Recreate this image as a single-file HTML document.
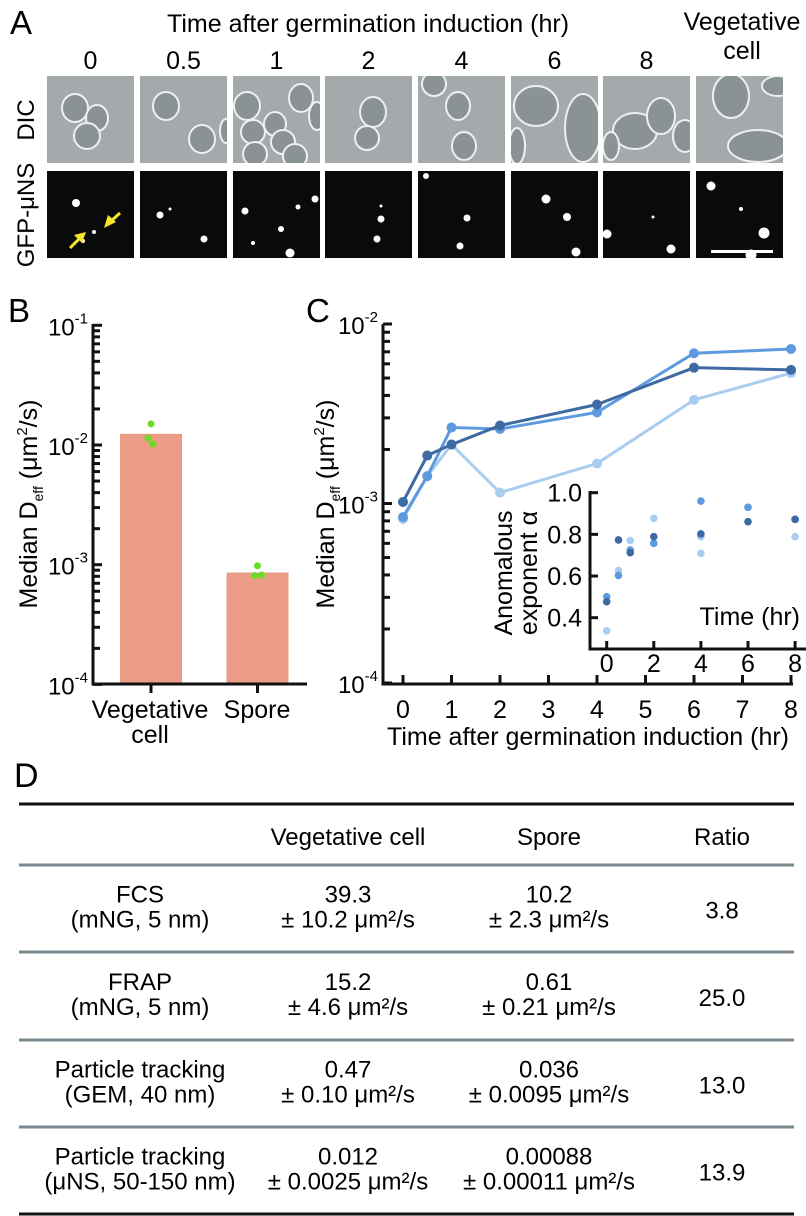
<!DOCTYPE html>
<html><head><meta charset="utf-8"><style>
html,body{margin:0;padding:0;background:#fff;}
svg{display:block;font-family:"Liberation Sans",Arial,sans-serif;}
</style></head><body>
<svg id="fig" width="806" height="1216" viewBox="0 0 806 1216" xmlns="http://www.w3.org/2000/svg">
<g>
<text x="10" y="34" font-size="33">A</text>
<text x="167" y="32" font-size="25">Time after germination induction (hr)</text>
<text x="742" y="30" font-size="25" text-anchor="middle">Vegetative</text>
<text x="742" y="59" font-size="25" text-anchor="middle">cell</text>
<text transform="translate(34 120) rotate(-90)" font-size="24" text-anchor="middle">DIC</text>
<text transform="translate(34 215) rotate(-90)" font-size="24" text-anchor="middle">GFP-μNS</text>
<g id="micro"></g>
</g>
<g>
<text x="8" y="322" font-size="33">B</text>
<text transform="translate(37 504) rotate(-90)" font-size="25" text-anchor="middle">Median D<tspan font-size="14" dy="6">eff</tspan><tspan dy="-6"> (μm</tspan><tspan font-size="15" dy="-10">2</tspan><tspan dy="10">/s)</tspan></text>
<g id="chartB"></g>
<text x="150" y="718" font-size="25" text-anchor="middle">Vegetative</text>
<text x="150" y="743" font-size="25" text-anchor="middle">cell</text>
<text x="257" y="718" font-size="25" text-anchor="middle">Spore</text>
</g>
<g>
<text x="306" y="322" font-size="33">C</text>
<text transform="translate(334 504) rotate(-90)" font-size="25" text-anchor="middle">Median D<tspan font-size="14" dy="6">eff</tspan><tspan dy="-6"> (μm</tspan><tspan font-size="15" dy="-10">2</tspan><tspan dy="10">/s)</tspan></text>
<g id="chartC"></g>
<text x="588" y="745" font-size="25" text-anchor="middle">Time after germination induction (hr)</text>
</g>
<g>
<text x="14" y="787" font-size="34">D</text>
<g id="table"></g>
</g>
</svg>
<script>
const NS="http://www.w3.org/2000/svg";
function mk(tag,attrs,parent){const e=document.createElementNS(NS,tag);for(const k in attrs)e.setAttribute(k,attrs[k]);parent.appendChild(e);return e;}

// ===== Panel B data =====
const bCategories=["Vegetative cell","Spore"];
const bMedians=[0.0124,0.00086];
const bVegDots=[0.0150,0.0114,0.0102];
const bSporeDots=[0.00098,0.00081,0.00082];
const bTickLabels=["-1","-2","-3","-4"];

// ===== Panel C data =====
const cTimes=[0,0.5,1,2,4,6,8];
const cDark=[0.00102,0.00185,0.00213,0.00272,0.00356,0.00571,0.00555];
const cMedium=[0.00084,0.00142,0.00265,0.00260,0.00322,0.00687,0.00726];
const cLight=[0.00082,0.00142,0.00213,0.00115,0.00167,0.00378,0.00533];
const cXTicks=[0,1,2,3,4,5,6,7,8];
const cYTickLabels=["-2","-3","-4"];
const iDark=[0.477,0.773,0.712,0.789,0.802,0.861,0.872];
const iMedium=[0.501,0.603,0.725,0.757,0.960,0.930,0.872];
const iLight=[0.337,0.626,0.770,0.877,0.709,0.930,0.789];
const iLight2=[null,null,null,null,0.789,null,null];
const iYTicks=[0.4,0.6,0.8,1.0];
const iXTicks=[0,2,4,6,8];

const COL={dark:"#3e6aa4",med:"#5d9ae0",light:"#a9cdf0"};

(function(){
  const g=document.getElementById('micro');
  const labels=["0","0.5","1","2","4","6","8"];
  const xs=[47,140,233,325,418,511,603,696];
  const w=87;
  labels.forEach((l,i)=>{const t=mk('text',{x:xs[i]+w/2,y:69,'font-size':25,'text-anchor':'middle'},g);t.textContent=l;
    
    });
  const cells=[
   [[28,32,13,14],[50,42,11,13],[40,60,13,13]],
   [[26,30,13,14],[62,63,13,14],[86,55,6,12]],
   [[14,30,13,14],[42,48,11,12],[20,56,12,12],[68,22,12,14],[50,66,12,12],[22,78,12,12],[62,80,12,12],[84,40,8,14]],
   [[48,36,13,15],[42,62,12,12]],
   [[16,8,12,12],[40,30,12,14],[46,70,12,14]],
   [[25,30,22,20],[72,52,18,34],[6,70,8,18]],
   [[32,55,22,18],[58,40,14,18],[82,60,12,16],[8,70,8,14]],
   [[35,20,18,22],[62,70,30,16],[82,10,16,10]]
  ];
  const dots=[
   [[29,32,4],[47,61,2],[36,70,2],[28,72,1.5]],
   [[20,44,3.5],[64,68,3.5],[30,38,1.5]],
   [[12,40,3.5],[48,58,3],[57,82,4.5],[82,28,3.5],[20,72,2],[65,36,2.5]],
   [[56,48,3.5],[52,68,3.5],[56,35,1.5]],
   [[8,5,3],[49,47,3.5],[42,75,3.5]],
   [[35,28,4.5],[56,46,4],[65,81,4.5]],
   [[4,63,4.5],[68,78,4.5],[50,46,1.5]],
   [[15,15,4.5],[68,62,5.5],[55,84,5.5],[45,38,2]]
  ];
  xs.forEach((x,i)=>{
    const d=mk('g',{},g);
    
    
    mk('rect',{x:x,y:76,width:w,height:87,fill:'#a4aaab'},d);
    const cp='cp'+i;const c=mk('clipPath',{id:cp},d);mk('rect',{x:x,y:76,width:w,height:87},c);
    const cg=mk('g',{'clip-path':'url(#'+cp+')'},d);
    cells[i].forEach(c=>{mk('ellipse',{cx:x+c[0],cy:76+c[1],rx:c[2],ry:c[3],fill:'#8a9293',stroke:'#eef0f0','stroke-width':2},cg);});
    const f=mk('g',{},g);
    
    
    mk('rect',{x:x,y:171,width:w,height:87,fill:'#0a0a0a'},f);
    const cp2='cq'+i;const c2=mk('clipPath',{id:cp2},f);mk('rect',{x:x,y:171,width:w,height:87},c2);
    const fg=mk('g',{'clip-path':'url(#'+cp2+')'},f);
    dots[i].forEach(p=>{mk('circle',{cx:x+p[0],cy:171+p[1],r:p[2],fill:'#fff'},fg);});
  });
  const a=mk('g',{stroke:'#f5e62a','stroke-width':3,fill:'#f5e62a'},g);
  
  
  mk('line',{x1:70,y1:248,x2:80,y2:238},a);mk('polygon',{points:'86,232 74,235 82,243',stroke:'none'},a);
  mk('line',{x1:120,y1:213,x2:110,y2:222},a);mk('polygon',{points:'104,228 108,215 116,222',stroke:'none'},a);
  const sb=mk('rect',{x:711,y:250,width:62,height:3,fill:'#fff'},g);
  
  
})();

(function(){
  const g=document.getElementById('chartB');
  const ax=93, yB=v=>445-(Math.log10(v)+2)*119.7, bottom=684;
  const xB=i=>151+i*106.5;
  bMedians.forEach((v,i)=>{const r=mk('rect',{x:xB(i)-31,y:yB(v),width:62,height:bottom-yB(v),fill:'#eb9c86'},g);
    
    });
  [bVegDots,bSporeDots].forEach((arr,i)=>arr.forEach((v,j)=>{const c=mk('circle',{cx:xB(i)+(j==0?0:(j==1?-3:2))+(i==1&&j==2?2:0),cy:yB(v),r:3.5,fill:'#6bdc25'},g);
    
    }));
  for(let dec=-4;dec<-1;dec++){for(let m=1;m<10;m++){const v=m*Math.pow(10,dec);const y=yB(v);mk('line',{x1:ax,x2:ax+(m==1?9:7),y1:y,y2:y,stroke:'#111','stroke-width':3},g);}}
  mk('line',{x1:ax,x2:ax+9,y1:yB(0.1),y2:yB(0.1),stroke:'#111','stroke-width':3},g);
  bTickLabels.forEach(l=>{const y=yB(Math.pow(10,+l));const t=mk('text',{x:88,y:y+10,'font-size':24,'text-anchor':'end'},g);
    t.innerHTML='10<tspan font-size="15" dy="-12">'+l+'</tspan>';
    
    });
  const yl=mk('line',{x1:ax,x2:ax,y1:324,y2:bottom+1.5,stroke:'#111','stroke-width':3},g);
  
  const xl=mk('line',{x1:ax-1.5,x2:307,y1:bottom,y2:bottom,stroke:'#111','stroke-width':3},g);
  
  bCategories.forEach((c,i)=>mk('line',{x1:xB(i),x2:xB(i),y1:bottom,y2:bottom+9,stroke:'#111','stroke-width':3},g));
})();

(function(){
  const g=document.getElementById('chartC');
  const ax=383,bottom=684;
  const yC=v=>503.5-(Math.log10(v)+3)*179.5, xC=t=>403+48.5*t;
  for(let dec=-4;dec<-2;dec++){for(let m=1;m<10;m++){const y=yC(m*Math.pow(10,dec));mk('line',{x1:ax,x2:ax+(m==1?9:7),y1:y,y2:y,stroke:'#111','stroke-width':3},g);}}
  mk('line',{x1:ax,x2:ax+9,y1:yC(0.01),y2:yC(0.01),stroke:'#111','stroke-width':3},g);
  cYTickLabels.forEach(l=>{const y=yC(Math.pow(10,+l));const t=mk('text',{x:378,y:y+10,'font-size':24,'text-anchor':'end'},g);
    t.innerHTML='10<tspan font-size="15" dy="-12">'+l+'</tspan>';
    
    });
  cXTicks.forEach(t=>{mk('line',{x1:xC(t),x2:xC(t),y1:bottom,y2:bottom-9,stroke:'#111','stroke-width':3},g);
    const tx=mk('text',{x:xC(t),y:718,'font-size':25,'text-anchor':'middle'},g);tx.textContent=t;
    
    });
  mk('line',{x1:ax,x2:ax,y1:324,y2:bottom+1.5,stroke:'#111','stroke-width':3},g);
  mk('line',{x1:ax-1.5,x2:793,y1:bottom,y2:bottom,stroke:'#111','stroke-width':3},g);
  [[cLight,COL.light,'light'],[cMedium,COL.med,'medium'],[cDark,COL.dark,'dark']].forEach(([arr,col,nm])=>{
    const pl=mk('polyline',{points:arr.map((v,i)=>xC(cTimes[i])+','+yC(v)).join(' '),fill:'none',stroke:col,'stroke-width':3},g);
    
    
    arr.forEach((v,i)=>{const c=mk('circle',{cx:xC(cTimes[i]),cy:yC(v),r:5,fill:col},g);
      
      });
  });
  const ig=mk('g',{},g);
  
  
  const xI=t=>606.7+23.55*t, yI=v=>492.7-(v-1)*208.3, ib=649;
  mk('rect',{x:591,y:480,width:215,height:168,fill:'#fff'},ig);
  mk('line',{x1:590,x2:590,y1:491,y2:ib+1.5,stroke:'#111','stroke-width':3},ig);
  mk('line',{x1:588.5,x2:806,y1:ib,y2:ib,stroke:'#111','stroke-width':3},ig);
  iYTicks.forEach(v=>{mk('line',{x1:590,x2:598,y1:yI(v),y2:yI(v),stroke:'#111','stroke-width':3},ig);
    const t=mk('text',{x:582,y:yI(v)+9,'font-size':25,'text-anchor':'end'},ig);t.textContent=v.toFixed(1);
    
    });
  iXTicks.forEach(v=>{mk('line',{x1:xI(v),x2:xI(v),y1:ib,y2:ib-8,stroke:'#111','stroke-width':3},ig);
    const t=mk('text',{x:xI(v),y:672,'font-size':25,'text-anchor':'middle'},ig);t.textContent=v;
    
    });
  [[iLight,COL.light],[iLight2,COL.light],[iMedium,COL.med],[iDark,COL.dark]].forEach(([arr,col])=>arr.forEach((v,i)=>{if(v==null)return;
    const c=mk('circle',{cx:xI(cTimes[i]),cy:yI(v),r:3.8,fill:col},ig);
    
    }));
  const tt=mk('text',{x:800,y:625,'font-size':25,'text-anchor':'end'},ig);tt.textContent='Time (hr)';
  
  const yt=mk('text',{transform:'translate(0 573) rotate(-90)','font-size':25,'text-anchor':'middle'},ig);
  yt.innerHTML='<tspan x="0" y="512">Anomalous</tspan><tspan x="0" y="537">exponent α</tspan>';
  
})();

(function(){
  const g=document.getElementById('table');
  const cols=[140,348,549,722];
  const header=["","Vegetative cell","Spore","Ratio"];
  const rows=[
    [["FCS","(mNG, 5 nm)"],["39.3","± 10.2 μm²/s"],["10.2","± 2.3 μm²/s"],["3.8"]],
    [["FRAP","(mNG, 5 nm)"],["15.2","± 4.6 μm²/s"],["0.61","± 0.21 μm²/s"],["25.0"]],
    [["Particle tracking","(GEM, 40 nm)"],["0.47","± 0.10 μm²/s"],["0.036","± 0.0095 μm²/s"],["13.0"]],
    [["Particle tracking","(μNS, 50-150 nm)"],["0.012","± 0.0025 μm²/s"],["0.00088","± 0.00011 μm²/s"],["13.9"]]
  ];
  const lines=[865,952,1040,1127];
  mk('line',{x1:19,x2:794,y1:804,y2:804,stroke:'#111','stroke-width':3},g);
  mk('line',{x1:19,x2:794,y1:1214,y2:1214,stroke:'#111','stroke-width':3},g);
  lines.forEach(y=>{const l=mk('line',{x1:19,x2:794,y1:y,y2:y,stroke:'#7a8890','stroke-width':3},g);
    });
  header.forEach((h,i)=>{if(!h)return;const t=mk('text',{x:cols[i],y:845,'font-size':24,'text-anchor':'middle'},g);t.textContent=h;
    });
  rows.forEach((r,ri)=>{const mid=(lines[ri]+(ri<3?lines[ri+1]:1214))/2;
    r.forEach((cell,ci)=>{const t=mk('text',{x:cols[ci],'font-size':24,'text-anchor':'middle'},g);
      
      if(cell.length==1){t.setAttribute('y',mid+10);t.textContent=cell[0];}
      else{t.setAttribute('y',mid-6);
        const a=mk('tspan',{x:cols[ci]},t);a.textContent=cell[0];
        const b=mk('tspan',{x:cols[ci],dy:25},t);b.textContent=cell[1];}
    });});
})();
</script>
</body></html>
